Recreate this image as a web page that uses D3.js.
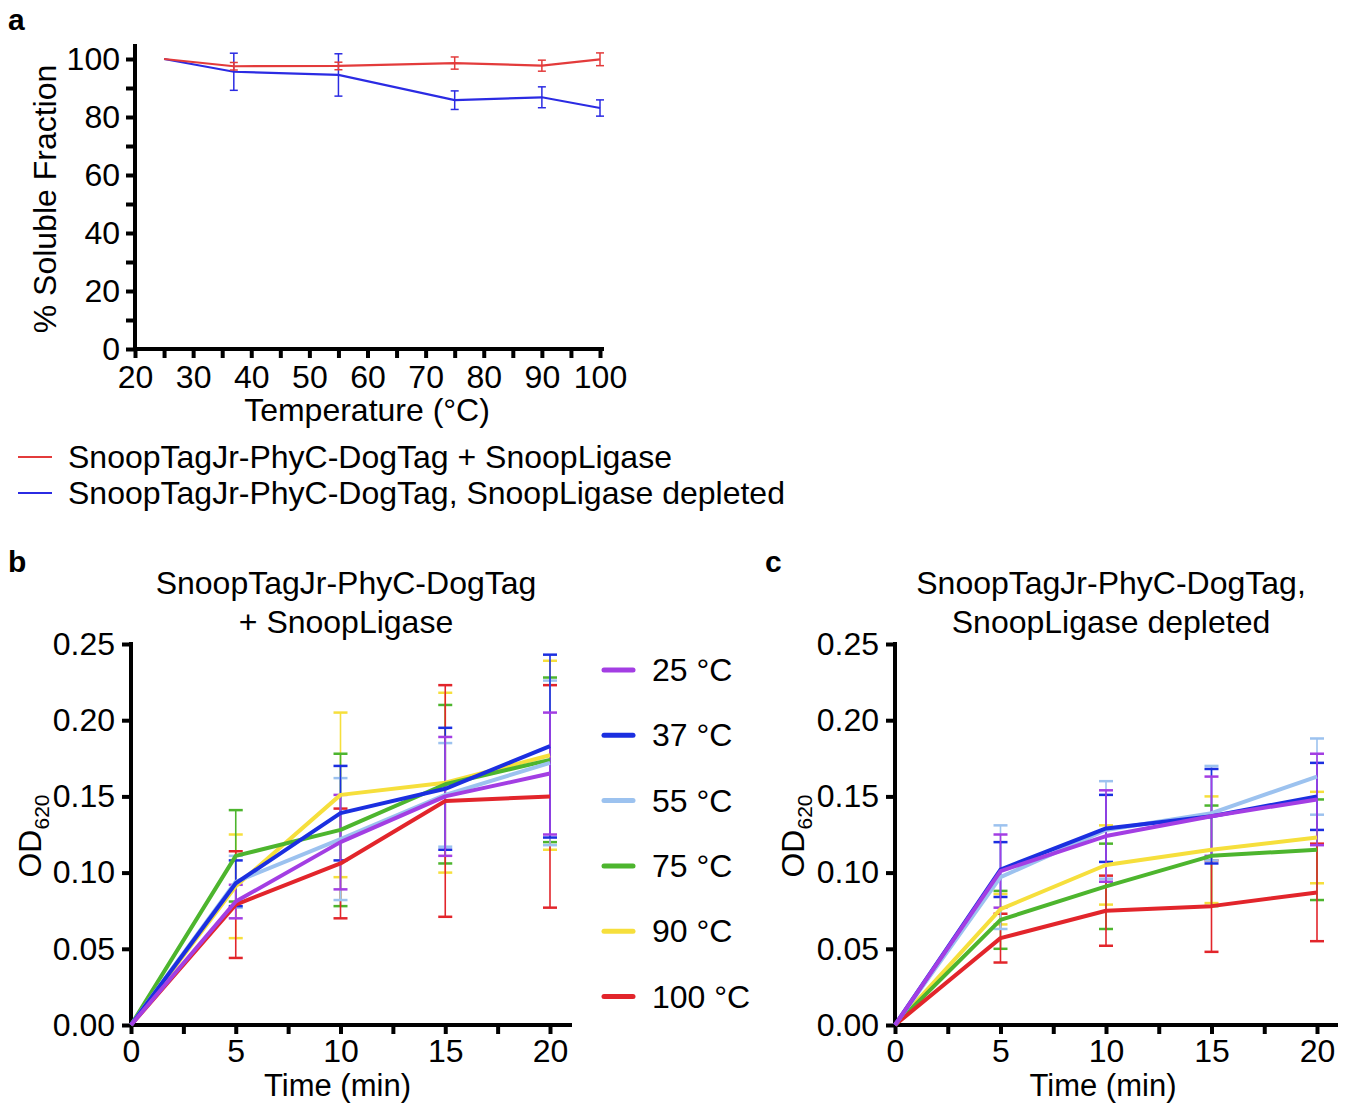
<!DOCTYPE html>
<html>
<head>
<meta charset="utf-8">
<script src="https://cdn.jsdelivr.net/npm/d3@7"></script>
<style>
  body { margin: 0; background: #fff; }
  svg text { font-family: "Liberation Sans", Arial, sans-serif; }
</style>
</head>
<body>
<svg id="drawing_region"></svg>
<script>
// panel a: % soluble fraction vs temperature
const tempA = [25, 37, 55, 75, 90, 100];
const ligaseMean = [100, 97.5, 97.6, 98.6, 97.7, 99.9];
const ligaseErr = [0, 1.3, 1.3, 2.1, 1.9, 2.2];
const depletedMean = [100, 95.6, 94.5, 85.8, 86.8, 83.1];
const depletedErr = [0, 6.4, 7.3, 3.2, 3.6, 2.8];
const legendA = ["SnoopTagJr-PhyC-DogTag + SnoopLigase", "SnoopTagJr-PhyC-DogTag, SnoopLigase depleted"];

// panels b and c: OD620 vs time
const times = [0, 5, 10, 15, 20];
const tempLabels = ["25 °C", "37 °C", "55 °C", "75 °C", "90 °C", "100 °C"];
const ligaseOD = [
    [0, 0.081, 0.120, 0.150, 0.165],
    [0, 0.093, 0.139, 0.155, 0.183],
    [0, 0.094, 0.122, 0.151, 0.172],
    [0, 0.111, 0.128, 0.158, 0.174],
    [0, 0.091, 0.151, 0.159, 0.177],
    [0, 0.079, 0.106, 0.147, 0.150]
];
const ligaseODErr = [
    [0, 0.011, 0.031, 0.039, 0.040],
    [0, 0.015, 0.031, 0.040, 0.060],
    [0, 0.017, 0.040, 0.034, 0.054],
    [0, 0.030, 0.050, 0.052, 0.054],
    [0, 0.034, 0.054, 0.059, 0.062],
    [0, 0.035, 0.036, 0.076, 0.073]
];
const depletedOD = [
    [0, 0.101, 0.124, 0.137, 0.148],
    [0, 0.102, 0.129, 0.137, 0.150],
    [0, 0.097, 0.128, 0.139, 0.163],
    [0, 0.069, 0.091, 0.111, 0.115],
    [0, 0.076, 0.105, 0.115, 0.123],
    [0, 0.057, 0.075, 0.078, 0.087]
];
const depletedODErr = [
    [0, 0.024, 0.030, 0.026, 0.030],
    [0, 0.018, 0.022, 0.031, 0.022],
    [0, 0.034, 0.032, 0.031, 0.025],
    [0, 0.019, 0.028, 0.033, 0.033],
    [0, 0.010, 0.026, 0.035, 0.030],
    [0, 0.016, 0.023, 0.030, 0.032]
];

const tempColors = ["#a33ee3", "#1b2fe0", "#9cc2ef", "#4db52e", "#f6df3c", "#e2252b"];
const drawOrder = [4, 3, 5, 2, 1, 0];
const FS = 32;

const svg = d3.select('#drawing_region')
    .attr('width', 1352)
    .attr('height', 1104);

function styleAxis( g ){
    g.attr('font-size', FS + 'px').attr('font-family', '"Liberation Sans", Arial, sans-serif');
    g.select('.domain').remove();
    g.selectAll('.tick line').attr('stroke', 'black').attr('stroke-width', 4);
    g.selectAll('.tick text').attr('fill', 'black');
}

function panelLetter( x, y, s ){
    svg.append('text')
        .attr('x', x).attr('y', y)
        .attr('font-size', '30px').attr('font-weight', 'bold')
        .text(s);
}

// ---------- panel a ----------
(function(){
    const xscale = d3.scaleLinear().domain([20, 100]).range([135, 600]);
    const yscale = d3.scaleLinear().domain([0, 100]).range([349, 59]);

    const xaxis = d3.axisBottom(xscale)
        .tickValues(d3.range(20, 101, 5))
        .tickFormat(d => d % 10 === 0 ? d : '')
        .tickSize(9).tickPadding(7);
    svg.append('g').attr('transform', 'translate(0,349)').call(xaxis).call(styleAxis);

    const yaxis = d3.axisLeft(yscale)
        .tickValues(d3.range(0, 101, 10))
        .tickFormat(d => d % 20 === 0 ? d : '')
        .tickSize(9).tickPadding(6);
    svg.append('g').attr('transform', 'translate(135,0)').call(yaxis).call(styleAxis);

    svg.append('line').attr('x1', 135).attr('x2', 135).attr('y1', 351).attr('y2', 44)
        .attr('stroke', 'black').attr('stroke-width', 4);
    svg.append('line').attr('x1', 133).attr('x2', 604).attr('y1', 349).attr('y2', 349)
        .attr('stroke', 'black').attr('stroke-width', 4);

    const series = [
        {mean: depletedMean, err: depletedErr, color: '#2b2be3'},
        {mean: ligaseMean, err: ligaseErr, color: '#e33b3b'}
    ];
    const line = d3.line().x(d => xscale(d.x)).y(d => yscale(d.y));
    series.forEach(s => {
        const pts = tempA.map((t, i) => ({x: t, y: s.mean[i], e: s.err[i]}));
        const eb = svg.append('g').attr('stroke', s.color).attr('stroke-width', 1.5);
        pts.filter(d => d.e > 0).forEach(d => {
            const cx = xscale(d.x);
            eb.append('line').attr('x1', cx).attr('x2', cx)
                .attr('y1', yscale(d.y - d.e)).attr('y2', yscale(d.y + d.e));
            [d.y - d.e, d.y + d.e].forEach(v => {
                eb.append('line').attr('x1', cx - 4).attr('x2', cx + 4)
                    .attr('y1', yscale(v)).attr('y2', yscale(v));
            });
        });
        svg.append('path').datum(pts)
            .attr('fill', 'none').attr('stroke', s.color).attr('stroke-width', 2.2)
            .attr('d', line);
    });

    svg.append('text')
        .attr('transform', 'translate(56,199) rotate(-90)')
        .attr('text-anchor', 'middle').attr('font-size', FS + 'px')
        .text('% Soluble Fraction');
    svg.append('text')
        .attr('x', 367).attr('y', 421)
        .attr('text-anchor', 'middle').attr('font-size', FS + 'px')
        .text('Temperature (°C)');

    const lg = svg.append('g');
    [['#e33b3b', 457], ['#2b2be3', 493]].forEach((c, i) => {
        lg.append('line').attr('x1', 18).attr('x2', 52).attr('y1', c[1]).attr('y2', c[1])
            .attr('stroke', c[0]).attr('stroke-width', 2.2);
        lg.append('text').attr('x', 68).attr('y', c[1] + 11)
            .attr('font-size', FS + 'px').text(legendA[i]);
    });

    panelLetter(8, 30, 'a');
})();

// ---------- panels b, c ----------
function odPanel( cfg ){
    const xscale = d3.scaleLinear().domain([0, 20]).range([cfg.x0, cfg.x1]);
    const yscale = d3.scaleLinear().domain([0, 0.25]).range([1025, 644]);

    const xaxis = d3.axisBottom(xscale)
        .tickValues(d3.range(0, 20.1, 2.5))
        .tickFormat(d => d % 5 === 0 ? d : '')
        .tickSize(9).tickPadding(5);
    svg.append('g').attr('transform', 'translate(0,1025)').call(xaxis).call(styleAxis);

    const yaxis = d3.axisLeft(yscale)
        .tickValues(d3.range(0, 0.2501, 0.05))
        .tickFormat(d3.format('.2f'))
        .tickSize(9).tickPadding(7);
    svg.append('g').attr('transform', `translate(${cfg.x0},0)`).call(yaxis).call(styleAxis);

    svg.append('line').attr('x1', cfg.x0).attr('x2', cfg.x0).attr('y1', 1027).attr('y2', 642)
        .attr('stroke', 'black').attr('stroke-width', 4);
    svg.append('line').attr('x1', cfg.x0 - 2).attr('x2', cfg.xEnd).attr('y1', 1025).attr('y2', 1025)
        .attr('stroke', 'black').attr('stroke-width', 4);

    const line = d3.line().x(d => xscale(d.x)).y(d => yscale(d.y));

    // error bars first, lines on top
    drawOrder.forEach(k => {
        const eb = svg.append('g').attr('stroke', tempColors[k]).attr('stroke-width', 1.6);
        times.forEach((t, i) => {
            const m = cfg.mean[k][i], e = cfg.err[k][i];
            if (e <= 0) return;
            const cx = xscale(t);
            eb.append('line').attr('x1', cx).attr('x2', cx)
                .attr('y1', yscale(m - e)).attr('y2', yscale(m + e));
            [m - e, m + e].forEach(v => {
                eb.append('line').attr('x1', cx - 7).attr('x2', cx + 7)
                    .attr('y1', yscale(v)).attr('y2', yscale(v)).attr('stroke-width', 2.5);
            });
        });
    });
    drawOrder.forEach(k => {
        const pts = times.map((t, i) => ({x: t, y: cfg.mean[k][i]}));
        svg.append('path').datum(pts)
            .attr('fill', 'none').attr('stroke', tempColors[k]).attr('stroke-width', 4)
            .attr('stroke-linejoin', 'round')
            .attr('d', line);
    });

    const title = svg.append('text').attr('text-anchor', 'middle').attr('font-size', FS + 'px');
    title.append('tspan').attr('x', cfg.titleX).attr('y', 594).text(cfg.title[0]);
    title.append('tspan').attr('x', cfg.titleX).attr('y', 633).text(cfg.title[1]);

    const yl = svg.append('text')
        .attr('transform', `translate(${cfg.yLabelX},836) rotate(-90)`)
        .attr('text-anchor', 'middle').attr('font-size', FS + 'px');
    yl.append('tspan').text('OD');
    yl.append('tspan').attr('font-size', '21px').attr('dy', 8).text('620');

    svg.append('text')
        .attr('x', (cfg.x0 + cfg.x1) / 2 - 3).attr('y', 1096)
        .attr('text-anchor', 'middle').attr('font-size', '31px')
        .text('Time (min)');

    panelLetter(cfg.letterX, 572, cfg.letter);
}

odPanel({
    x0: 131, x1: 550, xEnd: 572,
    mean: ligaseOD, err: ligaseODErr,
    title: ['SnoopTagJr-PhyC-DogTag', '+ SnoopLigase'], titleX: 346,
    yLabelX: 41, letter: 'b', letterX: 8
});
odPanel({
    x0: 895, x1: 1317, xEnd: 1338,
    mean: depletedOD, err: depletedODErr,
    title: ['SnoopTagJr-PhyC-DogTag,', 'SnoopLigase depleted'], titleX: 1111,
    yLabelX: 804, letter: 'c', letterX: 765
});

// legend for b and c
const legend = svg.append('g');
tempLabels.forEach((lab, i) => {
    const y = 670 + i * 65.3;
    legend.append('line').attr('x1', 604).attr('x2', 633).attr('y1', y).attr('y2', y)
        .attr('stroke', tempColors[i]).attr('stroke-width', 5).attr('stroke-linecap', 'round');
    legend.append('text').attr('x', 652).attr('y', y + 11)
        .attr('font-size', FS + 'px').text(lab);
});
</script>
</body>
</html>
